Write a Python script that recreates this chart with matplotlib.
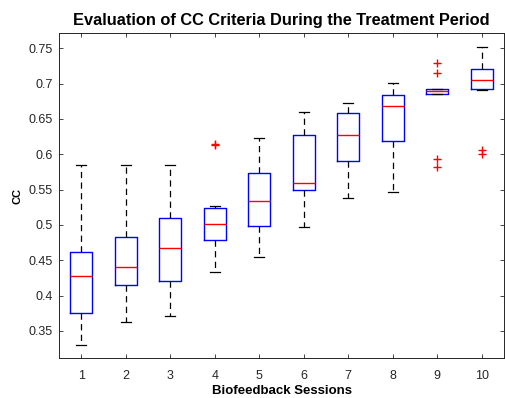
import matplotlib
matplotlib.use("Agg")
import matplotlib.pyplot as plt
from matplotlib.ticker import FixedLocator, FuncFormatter

plt.rcParams['font.family'] = ['Liberation Sans', 'DejaVu Sans']

# Data
sessions = [1, 2, 3, 4, 5, 6, 7, 8, 9, 10]
whislo = [0.330, 0.3625, 0.3705, 0.4328, 0.454, 0.497, 0.5376, 0.5465, 0.6854, 0.691]
q1     = [0.3757, 0.4144, 0.4205, 0.4786, 0.4984, 0.5494, 0.5904, 0.6183, 0.6854, 0.6929]
med    = [0.4276, 0.4404, 0.467, 0.502, 0.5338, 0.5593, 0.6268, 0.6679, 0.689, 0.7048]
q3     = [0.462, 0.4833, 0.5093, 0.5244, 0.573, 0.6278, 0.6584, 0.6839, 0.692, 0.7208]
whishi = [0.585, 0.585, 0.585, 0.5263, 0.6235, 0.6598, 0.6731, 0.7009, 0.692, 0.7515]
fliers = [[], [], [], [0.6130, 0.6140], [], [], [], [], [0.7297, 0.7156, 0.593, 0.5825], [0.606, 0.6005]]
yticks = [0.35, 0.4, 0.45, 0.5, 0.55, 0.6, 0.65, 0.7, 0.75]

title = "Evaluation of CC Criteria During the Treatment Period"
xlabel = "Biofeedback Sessions"
ylabel = "CC"

fig = plt.figure(figsize=(5.05, 3.98), dpi=100)
ax = fig.add_axes([59/505, 1 - 358/398, (504 - 59)/505, (358 - 33)/398])

stats = []
for i in range(len(sessions)):
    stats.append(dict(med=med[i], q1=q1[i], q3=q3[i], whislo=whislo[i],
                      whishi=whishi[i], fliers=fliers[i]))

ax.bxp(stats, positions=sessions, widths=0.5, capwidths=0.22,
       boxprops=dict(color='blue', linewidth=1.0),
       medianprops=dict(color='red', linewidth=1.0),
       whiskerprops=dict(color='black', linewidth=0.9, linestyle=(0, (5, 3.5))),
       capprops=dict(color='black', linewidth=0.9),
       flierprops=dict(marker='+', markeredgecolor='red', markersize=6, linestyle='none', markeredgewidth=1.0),
       manage_ticks=False)

ax.set_xlim(0.5, 10.5)
ax.set_ylim(0.3116, 0.7717)
ax.xaxis.set_major_locator(FixedLocator(sessions))
ax.yaxis.set_major_locator(FixedLocator(yticks))
ax.yaxis.set_major_formatter(FuncFormatter(lambda v, p: f"{v:g}"))

tc = '#262626'
ax.tick_params(direction='in', length=3, width=0.6, top=True, right=True,
               labelsize=9, colors=tc, labelcolor=tc)
ax.tick_params(axis='x', pad=8.5)
ax.tick_params(axis='y', pad=4.5)
for s in ax.spines.values():
    s.set_color(tc)
    s.set_linewidth(0.7)

ax.set_title(title, fontsize=11.8, fontweight='bold', pad=6)
ax.set_xlabel(xlabel, fontsize=9.5, fontweight='bold', labelpad=2.5)
ax.set_ylabel(ylabel, fontsize=8, fontweight='bold', labelpad=4)

fig.savefig("out.png", dpi=100)
